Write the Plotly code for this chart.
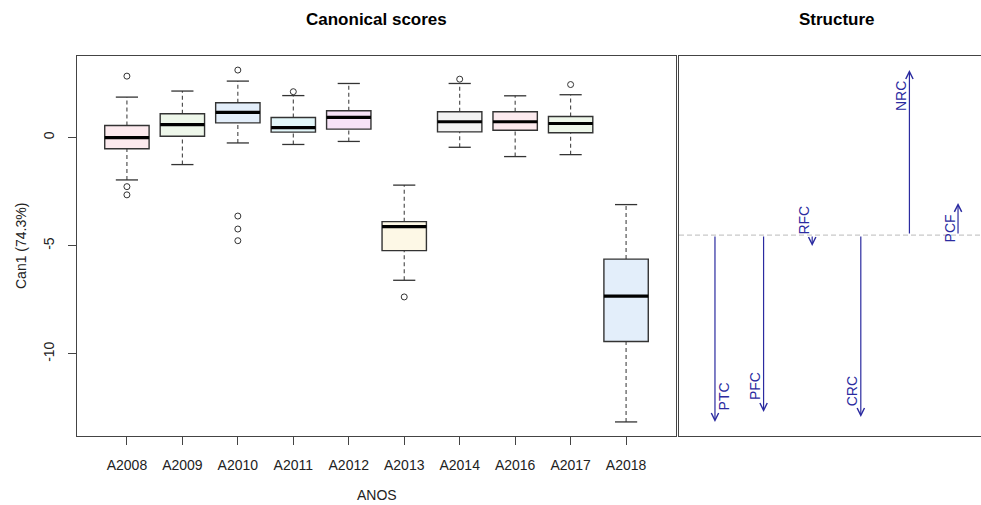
import plotly.graph_objects as go

# ---------------- data ----------------
years = ["A2008", "A2009", "A2010", "A2011", "A2012", "A2013", "A2014", "A2016", "A2017", "A2018"]
whisk_lo = [-1.96, -1.25, -0.25, -0.32, -0.18, -6.60, -0.45, -0.88, -0.79, -13.15]
q1 = [-0.52, 0.06, 0.68, 0.25, 0.39, -5.23, 0.26, 0.34, 0.22, -9.43]
median = [0.00, 0.60, 1.16, 0.46, 0.93, -4.12, 0.73, 0.73, 0.65, -7.33]
q3 = [0.56, 1.10, 1.61, 0.93, 1.24, -3.89, 1.19, 1.19, 0.97, -5.62]
whisk_hi = [1.87, 2.15, 2.61, 1.94, 2.50, -2.20, 2.50, 1.93, 1.98, -3.10]
outlier_year = ["A2008", "A2008", "A2008", "A2010", "A2010", "A2010", "A2010", "A2011", "A2013", "A2014", "A2017"]
outlier_val = [2.84, -2.27, -2.65, 3.12, -3.63, -4.23, -4.77, 2.12, -7.37, 2.70, 2.45]

variables = ["PTC", "PFC", "RFC", "CRC", "NRC", "PCF"]
structure = [-0.900, -0.852, -0.052, -0.876, 0.795, 0.155]

y_title = "Can1 (74.3%)"
x_title = "ANOS"

# ---------------- style ----------------
box_fill = ["#FCEAEE", "#EEF7EA", "#E3EEFA", "#E3F7FA", "#F7E3F7", "#FDF8E6",
            "#F2F2F2", "#FCEAEE", "#EEF7EA", "#E3EEFA"]
label_side = [1, -1, -1, -1, -1, -1]
FONT = "Liberation Sans, Arial, sans-serif"
arrow_col = "#2B2BA0"
W, H = 981, 505
ML, MR, MT, MB = 77, 0, 56, 69
plot_w = W - ML - MR
left_w = 599
gap = 3

fig = go.Figure()
shapes = []
n = len(years)
pos = list(range(1, n + 1))
bw = 0.8
for i in range(n):
    x = pos[i]
    # whiskers (dashed)
    for a, b in ((whisk_lo[i], q1[i]), (q3[i], whisk_hi[i])):
        shapes.append(dict(type="line", xref="x", yref="y", x0=x, x1=x, y0=a, y1=b,
                           line=dict(color="#444", width=1.1, dash="4px,3px"), layer="above"))
    # staples
    for v in (whisk_lo[i], whisk_hi[i]):
        shapes.append(dict(type="line", xref="x", yref="y", x0=x - bw / 4, x1=x + bw / 4, y0=v, y1=v,
                           line=dict(color="#333", width=1.3), layer="above"))
    # box
    shapes.append(dict(type="rect", xref="x", yref="y", x0=x - bw / 2, x1=x + bw / 2, y0=q1[i], y1=q3[i],
                       fillcolor=box_fill[i], line=dict(color="#333", width=1.4), layer="above"))
    # median
    shapes.append(dict(type="line", xref="x", yref="y", x0=x - bw / 2, x1=x + bw / 2, y0=median[i], y1=median[i],
                       line=dict(color="black", width=3.2), layer="above"))

ox = [pos[years.index(y)] for y in outlier_year]
fig.add_trace(go.Scatter(x=ox, y=outlier_val, mode="markers", xaxis="x", yaxis="y",
                         marker=dict(symbol="circle-open", size=6, color="#333", line=dict(width=1)),
                         showlegend=False, hoverinfo="y"))

# y range like R (4% extension)
allv = whisk_lo + whisk_hi + outlier_val
lo, hi = min(allv), max(allv)
ext = 0.04 * (hi - lo)
yr = [lo - ext, hi + ext]

# structure panel
m = len(variables)
spos = list(range(1, m + 1))
sx0 = 0.5 - 0.04 * m
full_w = (m + 0.08 * m)
px_per = (994 - (ML + left_w + gap)) / full_w
vis_w = (W - MR - (ML + left_w + gap)) / px_per
sxr = [sx0, sx0 + vis_w]
sv = structure + [0]
slo, shi = min(sv), max(sv)
sext = 0.04 * (shi - slo)
syr = [slo - sext, shi + sext]

fig.add_trace(go.Scatter(x=spos, y=[0] * m, mode="markers", xaxis="x2", yaxis="y2",
                         marker=dict(opacity=0), showlegend=False, hoverinfo="skip"))

shapes.append(dict(type="line", xref="x2", yref="y2", x0=sxr[0], x1=sxr[1], y0=0, y1=0,
                   line=dict(color="#BBBBBB", width=1, dash="5px,3px")))

annotations = []
for j in range(m):
    annotations.append(dict(x=spos[j], y=structure[j], ax=spos[j], ay=0, xref="x2", yref="y2",
                            axref="x2", ayref="y2", text="", showarrow=True, arrowhead=5,
                            arrowsize=1.2, arrowwidth=1.2, arrowcolor=arrow_col, standoff=0,
                            startstandoff=0))
    sgn = 1 if structure[j] > 0 else -1
    annotations.append(dict(x=spos[j], y=structure[j], xref="x2", yref="y2", text=variables[j],
                            showarrow=False, textangle=-90, xshift=8.5 * label_side[j],
                            yshift=-26 * sgn, font=dict(family=FONT, size=14, color=arrow_col)))

left_dom = [0, left_w / plot_w]
right_dom = [(left_w + gap) / plot_w, 1]

annotations += [
    dict(text="<b>Canonical scores</b>", xref="paper", yref="paper",
         x=(left_dom[0] + left_dom[1]) / 2, y=1 + (MT - 20) / (H - MT - MB), showarrow=False,
         font=dict(family=FONT, size=17, color="black"), xanchor="center", yanchor="middle"),
    dict(text="<b>Structure</b>", xref="paper", yref="paper",
         x=(right_dom[0] * plot_w + (994 - ML)) / 2 / plot_w, y=1 + (MT - 20) / (H - MT - MB),
         showarrow=False, font=dict(family=FONT, size=17, color="black"),
         xanchor="center", yanchor="middle"),
    dict(text=x_title, xref="paper", yref="paper", x=(left_dom[0] + left_dom[1]) / 2,
         y=-(495 - (H - MB)) / (H - MT - MB), showarrow=False,
         font=dict(family=FONT, size=14, color="#222"), xanchor="center", yanchor="middle"),
    dict(text=y_title, xref="paper", yref="paper", x=-(ML - 21) / plot_w, y=0.5, textangle=-90,
         showarrow=False, font=dict(family=FONT, size=14, color="#222"),
         xanchor="center", yanchor="middle"),
]

fig.update_layout(
    width=W, height=H, margin=dict(l=ML, r=MR, t=MT, b=MB, pad=0),
    paper_bgcolor="white", plot_bgcolor="white",
    showlegend=False, shapes=shapes, annotations=annotations,
    font=dict(family=FONT, size=14, color="#222"),
    xaxis=dict(domain=left_dom, range=[0.5 - 0.04 * n, n + 0.5 + 0.04 * n], tickvals=pos, ticktext=years,
               ticks="outside", ticklen=8, tickcolor="#444", showgrid=False, zeroline=False,
               showline=True, mirror=True, linecolor="#444", linewidth=1.2,
               tickfont=dict(family=FONT, size=14, color="#222"), ticklabelstandoff=8,
               fixedrange=True),
    yaxis=dict(domain=[0, 1], range=yr, tickvals=[0, -5, -10], ticktext=["0", "-5", "-10"],
               ticks="outside", ticklen=8, tickcolor="#444", showgrid=False, zeroline=False,
               showline=True, mirror=True, linecolor="#444", linewidth=1.2, tickangle=-90,
               tickfont=dict(family=FONT, size=14, color="#222"), ticklabelstandoff=8,
               fixedrange=True),
    xaxis2=dict(domain=right_dom, range=sxr, anchor="y2", showticklabels=False, ticks="",
                showgrid=False, zeroline=False, showline=True, mirror=True, linecolor="#444",
                linewidth=1.2, fixedrange=True),
    yaxis2=dict(domain=[0, 1], range=syr, anchor="x2", showticklabels=False, ticks="",
                showgrid=False, zeroline=False, showline=True, mirror=False, linecolor="#444",
                linewidth=1.2, fixedrange=True),
)

fig.write_html("out.html", config={"displayModeBar": False},
               post_script="document.body.style.margin='0px';")
